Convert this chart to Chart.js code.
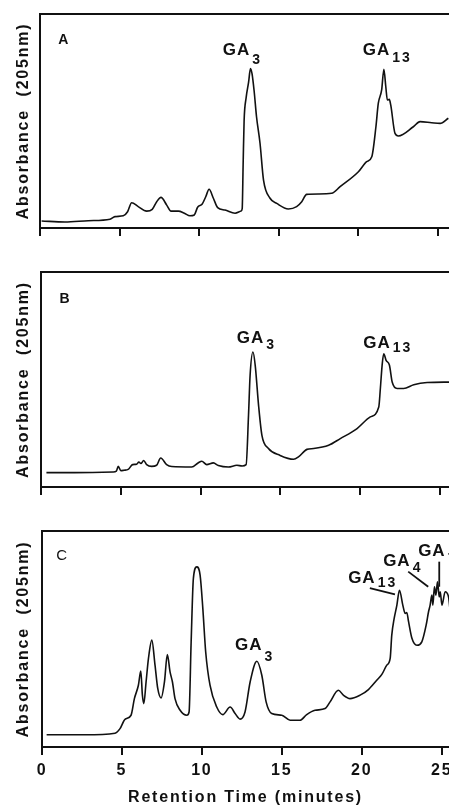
<!DOCTYPE html>
<html>
<head>
<meta charset="utf-8">
<script src="https://cdn.jsdelivr.net/npm/chart.js@4/dist/chart.umd.min.js"></script>
<style>
  html, body { margin: 0; padding: 0; background: #fff; }
  body { width: 449px; height: 807px; position: relative; overflow: hidden; }
  canvas { position: absolute; left: 0; }
  #chartA { top: 0; }
  #chartB { top: 258px; }
  #chartC { top: 517px; }
</style>
</head>
<body>
<canvas id="chartA" width="449" height="240"></canvas>
<canvas id="chartB" width="449" height="241"></canvas>
<canvas id="chartC" width="449" height="290"></canvas>
<script>
// ---- données (temps en minutes, absorbance en % de la hauteur du cadre)
const tickMinutes = [0, 5, 10, 15, 20, 25];

const timeA = [0.1, 1.57, 3.03, 4.4, 4.71, 5.23, 5.5, 5.76, 6.17, 6.7, 7.05, 7.33, 7.6, 7.96, 8.23, 8.69,
  9.07, 9.42, 9.69, 9.9, 10.19, 10.41, 10.62, 10.89, 11.16, 11.62, 12.25, 12.63, 12.7, 12.76, 12.82,
  12.95, 13.1, 13.22, 13.32, 13.45, 13.6, 13.82, 14.04, 14.45, 14.87, 15.6, 16.12, 16.44, 16.75, 17.5,
  18.32, 18.85, 20.0, 20.52, 20.84, 21.1, 21.25, 21.46, 21.6, 21.72, 21.82, 21.94, 22.03, 22.3, 22.51,
  23.45, 23.87, 24.6, 25.13, 25.65];
const absA = [3.3, 2.8, 3.4, 4.1, 5.3, 5.7, 7.6, 11.8, 10.0, 7.9, 8.7, 12.3, 14.3, 10.7, 7.9, 7.9,
  6.9, 5.7, 6.1, 9.7, 11.2, 14.6, 18.1, 13.9, 9.5, 8.4, 6.9, 7.9, 9.0, 30.0, 50.0,
  61.0, 68.0, 74.5, 72.0, 64.0, 52.0, 39.6, 22.4, 13.9, 11.5, 8.9, 10.0, 12.3, 15.7, 15.9,
  16.2, 19.3, 26.3, 31.0, 33.3, 47.3, 58.3, 64.5, 74.2, 66.0, 59.8, 60.1, 57.5, 44.2, 43.0,
  47.3, 49.7, 49.2, 48.9, 51.3];

const timeB = [0.34, 2.1, 4.52, 4.72, 4.84, 5.0, 5.2, 5.46, 5.74, 5.99, 6.13, 6.26, 6.43, 6.62, 6.93,
  7.24, 7.5, 7.87, 8.19, 9.44, 9.86, 10.07, 10.38, 10.8, 11.11, 11.74, 12.27, 12.6, 12.85, 13.0, 13.1,
  13.28, 13.42, 13.63, 13.84, 14.25, 14.98, 15.82, 16.13, 16.66, 17.08, 18.02, 18.75, 19.8, 20.63,
  21.16, 21.26, 21.37, 21.47, 21.62, 21.83, 22.0, 22.31, 22.72, 23.35, 24.19, 25.6];
const absB = [6.7, 6.7, 7.0, 7.4, 9.6, 7.6, 7.8, 8.2, 10.4, 10.6, 11.6, 10.9, 12.3, 10.4, 9.6,
  10.1, 13.5, 10.4, 9.5, 9.3, 11.3, 12.0, 10.4, 11.2, 10.0, 9.3, 10.1, 9.8, 10.4, 33.3, 52.0,
  62.8, 56.6, 38.0, 24.0, 17.9, 14.7, 12.9, 14.0, 17.5, 17.9, 19.4, 22.5, 27.2, 32.6,
  37.2, 45.8, 56.6, 62.0, 58.9, 56.6, 48.8, 45.8, 45.8, 47.6, 48.6, 48.8];

const timeC = [0.29, 2.69, 4.57, 4.88, 5.19, 5.57, 5.78, 6.03, 6.18, 6.28, 6.37, 6.51, 6.66, 6.87, 7.07,
  7.24, 7.45, 7.66, 7.84, 8.01, 8.16, 8.32, 8.64, 9.06, 9.2, 9.33, 9.47, 9.68, 9.89, 10.06, 10.24,
  10.51, 10.93, 11.31, 11.77, 12.08, 12.39, 12.7, 13.02, 13.44, 13.75, 14.02, 14.37, 15.0, 15.52,
  16.14, 16.56, 17.08, 17.71, 18.02, 18.54, 18.85, 19.27, 19.9, 20.42, 20.94, 21.26, 21.57,
  21.78, 21.88, 22.03, 22.2, 22.36, 22.57, 22.72, 22.82, 22.93, 23.14, 23.45, 23.76, 24.03, 24.18,
  24.28, 24.39, 24.45, 24.55, 24.64, 24.74, 24.85, 24.91, 25.02, 25.22, 25.43, 25.55];
const absC = [5.7, 5.7, 6.4, 8.5, 12.8, 14.7, 22.4, 28.6, 35.2, 24.0, 20.1, 30.1, 41.0, 49.5, 37.9,
  27.1, 22.7, 30.1, 42.8, 34.8, 30.1, 22.4, 17.0, 14.7, 16.2, 48.7, 78.1, 83.4, 79.6, 64.2, 44.0,
  28.6, 18.5, 15.0, 18.5, 15.5, 12.9, 16.2, 30.1, 39.7, 33.2, 20.9, 15.5, 14.7, 12.4,
  12.4, 15.0, 17.0, 17.8, 20.9, 26.3, 24.0, 22.4, 24.0, 26.6, 30.9, 33.6, 37.9,
  41.0, 51.8, 59.5, 65.7, 72.6, 65.7, 61.8, 62.3, 58.0, 50.3, 47.1, 48.7, 56.4, 62.6,
  65.7, 70.3, 65.7, 74.2, 70.3, 76.5, 69.5, 71.9, 65.7, 71.9, 69.5, 61.8];

// étiquettes des pics : texte + indice (positions en minutes / % du cadre)
const peaksA = [
  { main: "GA", sub: "3", x: 11.48, y: 82.8, sy: 78.3 },
  { main: "GA", sub: "13", x: 20.27, y: 82.8, sy: 79.6 },
];
const peaksB = [
  { main: "GA", sub: "3", x: 12.26, y: 69.3, sy: 65.8 },
  { main: "GA", sub: "13", x: 20.19, y: 67.0, sy: 64.5 },
];
const peaksC = [
  { main: "GA", sub: "3", x: 12.07, y: 47.2, sy: 41.8 },
  { main: "GA", sub: "13", x: 19.15, y: 78.0, sy: 76.0 },
  { main: "GA", sub: "4", x: 21.34, y: 86.1, sy: 83.0 },
  { main: "GA", sub: "7", x: 23.53, y: 90.5, sy: 87.0 },
];
const leadersC = [[20.51, 73.5, 22.08, 70.7], [22.91, 81.2, 24.16, 74.2], [24.85, 85.8, 24.85, 74.2]];

const FONT = "'Liberation Sans', Arial, Helvetica, sans-serif";
const INK = "#111";

const spacing = {
  id: "spacing",
  beforeDraw(chart) { chart.ctx.letterSpacing = "1.8px"; },
};

function labelsPlugin(letter, letterBold, peaks, leaders) {
  return {
    id: "peakLabels",
    afterDatasetsDraw(chart) {
      const { ctx, scales: { x, y } } = chart;
      ctx.save();
      ctx.fillStyle = INK;
      ctx.strokeStyle = INK;
      ctx.textBaseline = "middle";
      ctx.textAlign = "center";
      ctx.letterSpacing = "0px";
      ctx.font = (letterBold ? "bold 14px " : "15px ") + FONT;
      ctx.fillText(letter.text, x.getPixelForValue(letter.x), y.getPixelForValue(letter.y));

      ctx.textAlign = "left";
      peaks.forEach((p) => {
        const px = x.getPixelForValue(p.x);
        ctx.font = "bold 17px " + FONT;
        ctx.letterSpacing = "1px";
        ctx.fillText(p.main, px, y.getPixelForValue(p.y));
        const w = ctx.measureText(p.main).width;
        ctx.font = "bold 14px " + FONT;
        ctx.letterSpacing = "2px";
        ctx.fillText(p.sub, px + w + 2, y.getPixelForValue(p.sy));
      });

      ctx.lineWidth = 1.8;
      (leaders || []).forEach(([x1, y1, x2, y2]) => {
        ctx.beginPath();
        ctx.moveTo(x.getPixelForValue(x1), y.getPixelForValue(y1));
        ctx.lineTo(x.getPixelForValue(x2), y.getPixelForValue(y2));
        ctx.stroke();
      });
      ctx.restore();
    },
  };
}

function makePanel(id, times, values, o) {
  const withLabels = !!o.labels;
  return new Chart(document.getElementById(id), {
    type: "line",
    data: {
      labels: times,
      datasets: [{
        data: times.map((t, i) => ({ x: t, y: values[i] })),
        borderColor: INK, borderWidth: 1.6, pointRadius: 0,
        cubicInterpolationMode: "monotone",
      }],
    },
    options: {
      responsive: false, animation: false, devicePixelRatio: 1,
      layout: { padding: { top: 14, left: 0, right: 0, bottom: 0 } },
      plugins: { legend: { display: false }, tooltip: { enabled: false } },
      scales: {
        x: {
          type: "linear", position: "bottom", min: 0, max: o.xMax,
          afterBuildTicks: (s) => { s.ticks = tickMinutes.map((v) => ({ value: v })); },
          afterFit: (s) => { s.height = o.xHeight; s.paddingLeft = 0; s.paddingRight = 0; },
          grid: { display: true, drawOnChartArea: false, drawTicks: true, tickLength: 8, color: INK, lineWidth: 2 },
          border: { display: true, color: INK, width: 2 },
          ticks: { display: withLabels, color: INK, padding: 6, font: { family: FONT, size: 16, weight: "bold" } },
          title: {
            display: withLabels, text: "Retention Time (minutes)", color: INK,
            padding: { top: 0, bottom: 0 }, font: { family: FONT, size: 16, weight: "bold" },
          },
        },
        x2: {
          type: "linear", position: "top", display: true,
          afterFit: (s) => { s.height = 0; s.paddingLeft = 0; s.paddingRight = 0; },
          grid: { display: false, drawTicks: false },
          border: { display: true, color: INK, width: 2 },
          ticks: { display: false },
        },
        y: {
          type: "linear", position: "left", min: 0, max: 100,
          afterFit: (s) => { s.width = o.yWidth; },
          grid: { display: false, drawTicks: false },
          border: { display: true, color: INK, width: 2 },
          ticks: { display: false },
          title: {
            display: true, text: "Absorbance  (205nm)", color: INK,
            padding: { top: 14, bottom: 0 }, font: { family: FONT, size: 16, weight: "bold" },
          },
        },
      },
    },
    plugins: [spacing, labelsPlugin(o.letter, o.letterBold, o.peaks, o.leaders)],
  });
}

makePanel("chartA", timeA, absA, {
  xMax: 25.69, xHeight: 12, yWidth: 40,
  letter: { text: "A", x: 1.46, y: 88 }, letterBold: true, peaks: peaksA,
});
makePanel("chartB", timeB, absB, {
  xMax: 25.56, xHeight: 12, yWidth: 41,
  letter: { text: "B", x: 1.48, y: 87.3 }, letterBold: true, peaks: peaksB,
});
makePanel("chartC", timeC, absC, {
  xMax: 25.46, xHeight: 60, yWidth: 42, labels: true,
  letter: { text: "C", x: 1.23, y: 88.7 }, letterBold: false, peaks: peaksC, leaders: leadersC,
});
</script>
</body>
</html>
